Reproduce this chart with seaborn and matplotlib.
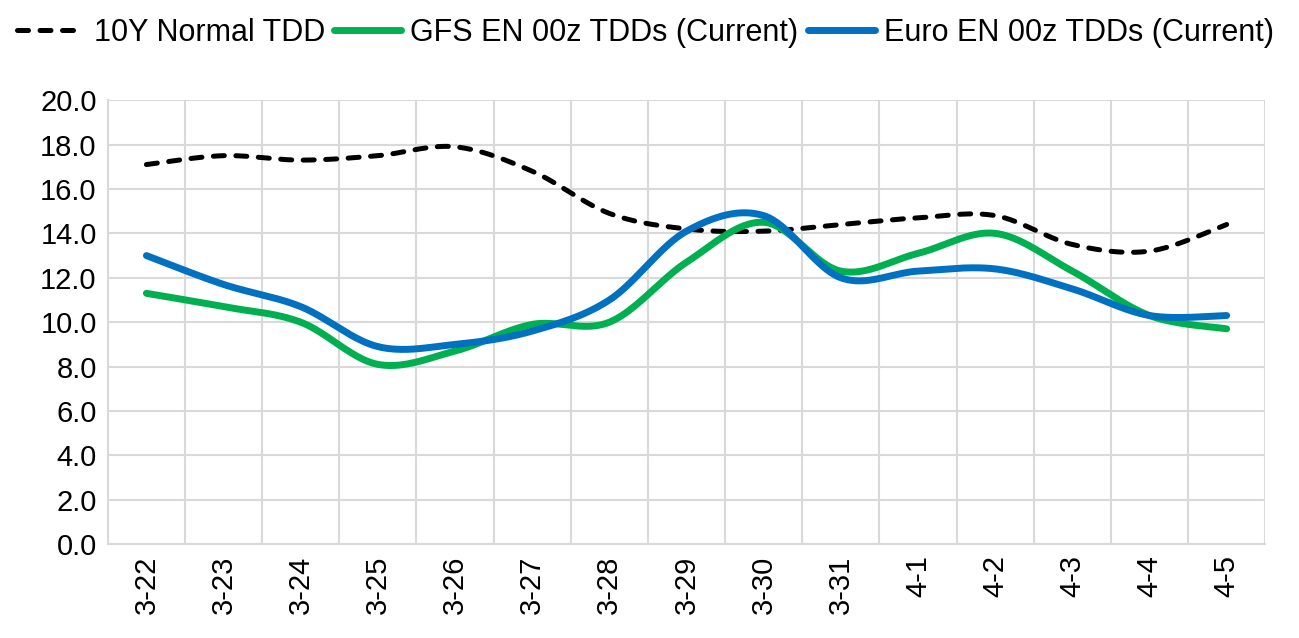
import numpy as np
import pandas as pd
import matplotlib
matplotlib.use("Agg")
import matplotlib.pyplot as plt
import seaborn as sns

# --- data ---
dates = ["3-22", "3-23", "3-24", "3-25", "3-26", "3-27", "3-28", "3-29",
         "3-30", "3-31", "4-1", "4-2", "4-3", "4-4", "4-5"]
normal_tdd = [17.1, 17.5, 17.3, 17.5, 17.9, 16.8, 14.9, 14.2,
              14.1, 14.4, 14.7, 14.8, 13.5, 13.2, 14.4]
gfs_tdd = [11.3, 10.7, 10.0, 8.1, 8.7, 9.9, 10.0, 12.7,
           14.5, 12.3, 13.1, 14.0, 12.3, 10.3, 9.7]
euro_tdd = [13.0, 11.7, 10.7, 8.9, 9.0, 9.6, 11.0, 14.1,
            14.8, 12.0, 12.3, 12.4, 11.5, 10.3, 10.3]


def smooth(y, n=40):
    # Excel-like smoothed line: cubic bezier with catmull-rom control points
    y = np.asarray(y, dtype=float)
    x = np.arange(len(y), dtype=float)
    pts = np.column_stack([x, y])
    ext = np.vstack([pts[0], pts, pts[-1]])
    out = []
    t = np.linspace(0, 1, n)[:, None]
    for i in range(len(pts) - 1):
        p0, p1, p2, p3 = ext[i], ext[i + 1], ext[i + 2], ext[i + 3]
        c1 = p1 + (p2 - p0) / 6
        c2 = p2 - (p3 - p1) / 6
        seg = ((1 - t) ** 3) * p1 + 3 * ((1 - t) ** 2) * t * c1 + 3 * (1 - t) * t ** 2 * c2 + t ** 3 * p2
        out.append(seg if i == 0 else seg[1:])
    out = np.vstack(out)
    return out[:, 0], out[:, 1]


sns.set_style("white")
plt.rcParams["font.family"] = ["Liberation Sans", "DejaVu Sans"]
plt.rcParams["text.color"] = "black"
plt.rcParams["xtick.color"] = "black"
plt.rcParams["ytick.color"] = "black"

fig, ax = plt.subplots(figsize=(12.99, 6.38), dpi=100)
fig.subplots_adjust(left=0.083, right=0.974, top=0.843, bottom=0.147)

series = [
    ("10Y Normal TDD", normal_tdd, "black", 3.6, (0, (2.2, 2.3))),
    ("GFS EN 00z TDDs (Current)", gfs_tdd, "#00B050", 5.0, "-"),
    ("Euro EN 00z TDDs (Current)", euro_tdd, "#0070C0", 5.0, "-"),
]
for name, vals, color, lw, ls in series:
    sx, sy = smooth(vals)
    df = pd.DataFrame({"x": sx, "y": sy})
    sns.lineplot(data=df, x="x", y="y", ax=ax, color=color, linewidth=lw,
                 linestyle=ls, sort=False, label=name, estimator=None)
for ln in ax.lines:
    ln.set_solid_capstyle("round")
    ln.set_dash_capstyle("round")

ax.set_xlim(-0.5, len(dates) - 0.5)
ax.set_ylim(0, 20)
ax.set_yticks(np.arange(0, 20.1, 2))
ax.set_yticklabels([f"{v:.1f}" for v in np.arange(0, 20.1, 2)], fontsize=21)
ax.set_xticks(range(len(dates)))
ax.set_xticklabels(dates, rotation=90, fontsize=21)
ax.set_xticks(np.arange(-0.5, len(dates), 1), minor=True)
ax.tick_params(axis="both", which="both", length=0, pad=8, colors="black")
ax.grid(False)
ax.yaxis.grid(True, color="#D9D9D9", linewidth=1.5)
ax.xaxis.grid(True, which="minor", color="#D9D9D9", linewidth=1.5)
ax.set_axisbelow(True)
ax.set_xlabel("")
ax.set_ylabel("")
for side in ["top", "right"]:
    ax.spines[side].set_visible(False)
for side in ["left", "bottom"]:
    ax.spines[side].set_color("#D9D9D9")
    ax.spines[side].set_linewidth(1.5)

handles, labels = ax.get_legend_handles_labels()
ax.get_legend().remove()
fig.legend(handles, labels, loc="upper center", bbox_to_anchor=(0.497, 1.015),
           ncol=3, frameon=False, fontsize=22, handlelength=2.2,
           handletextpad=0.3, columnspacing=0.3)

fig.savefig("out.png", dpi=100, facecolor="white")
